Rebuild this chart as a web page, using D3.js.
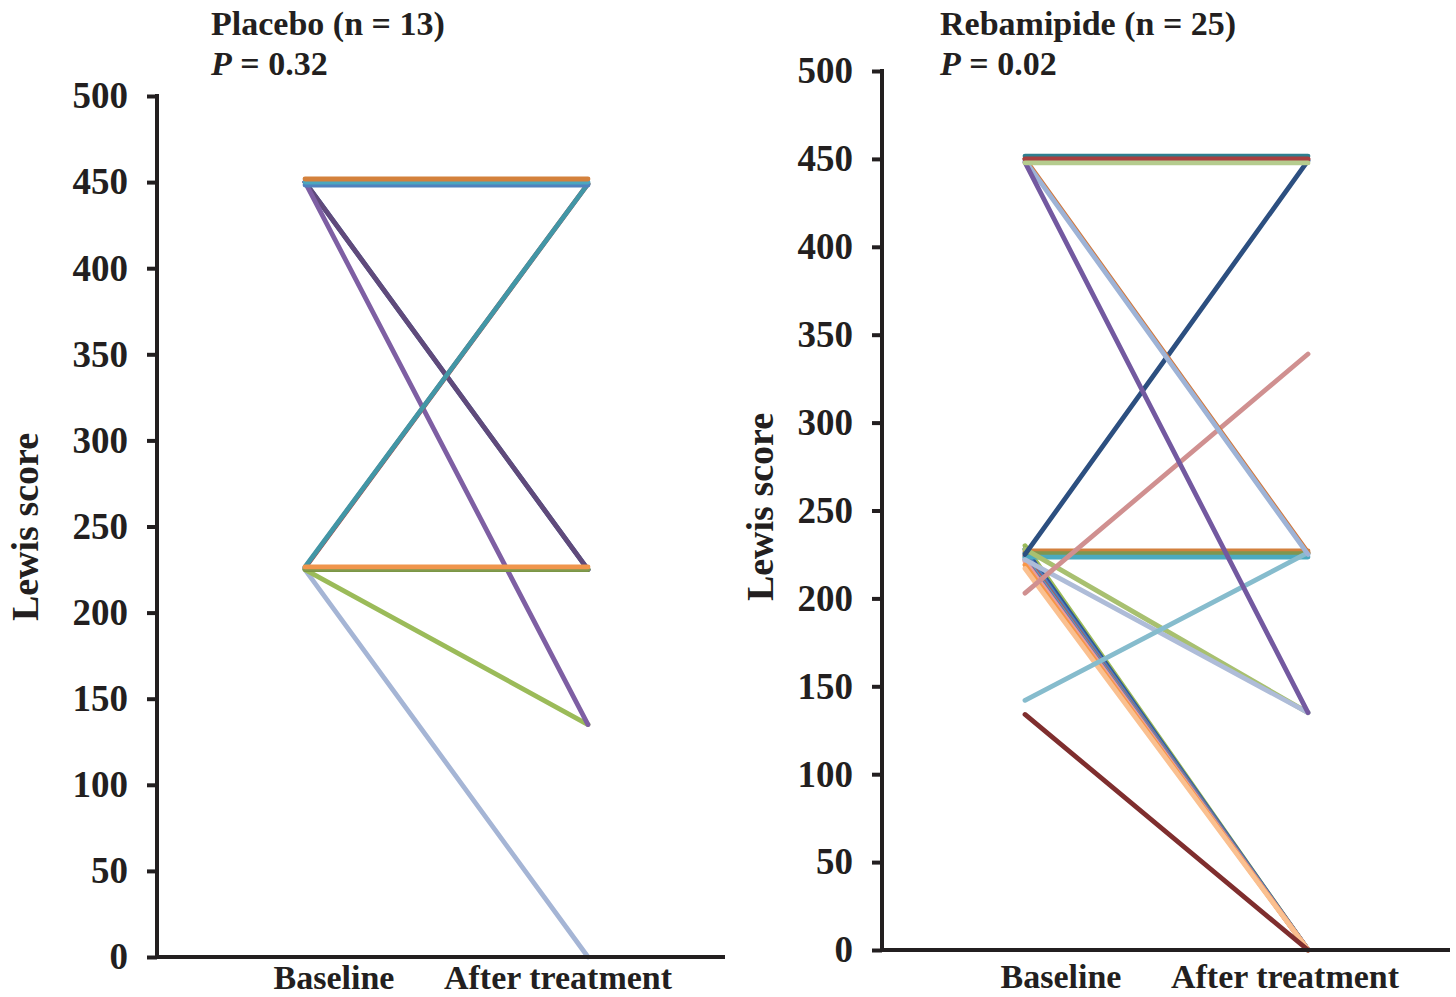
<!DOCTYPE html>
<html>
<head>
<meta charset="utf-8">
<script src="https://cdn.jsdelivr.net/npm/d3@7"></script>
<style>
  html, body { margin: 0; padding: 0; background: #fff; }
  svg { display: block; }
  text { font-family: "Liberation Serif", "Times New Roman", serif; font-weight: bold; fill: #231f20; }
</style>
</head>
<body>
<svg id="chart" width="1456" height="997"></svg>
<script>
// ---------- data ----------
const categories = ["Baseline", "After treatment"];
const yTicks = [0, 50, 100, 150, 200, 250, 300, 350, 400, 450, 500];

// Placebo (n = 13): one line per patient, drawn in this order
const placeboBaseline = [225, 225, 450, 450, 450, 226, 226.5, 225, 225.3, 226.5, 448.3, 450, 451.8];
const placeboAfter    = [0, 135, 225, 225, 135, 449, 449, 225, 225.3, 226.5, 448.3, 450, 451.8];
const placeboColors   = ["#a5b5d5", "#9bbb59", "#3c5f95", "#604a7b", "#7e5fa3", "#b0433d", "#4296a6",
                         "#77933c", "#809a4e", "#f0954c", "#5181bd", "#4ba7bf", "#d4813c"];

// Rebamipide (n = 25)
const rebaBaseline = [230, 228, 226, 224, 223, 222, 221, 219, 217, 134,
                      227, 225.5, 223.5, 228, 222, 142, 203, 225, 450, 449, 448, 450, 451.6, 450, 447.7];
const rebaAfter    = [0, 0, 0, 0, 0, 0, 0, 0, 0, 0,
                      227, 225.5, 223.5, 135, 135, 226, 339, 449, 226, 225, 135, 450, 451.6, 450, 447.7];
const rebaColors   = ["#9bbb59", "#2f5597", "#4f81bd", "#c0504d", "#4bacc6", "#8064a2", "#e6a0a0", "#f79646", "#fac090", "#7f2e2e",
                      "#d2803e", "#7f9650", "#4baac0", "#a8c070", "#aebcd8", "#86bccd", "#d09090", "#2c4f80",
                      "#d2773a", "#9eb3d6", "#7359a0", "#a84040", "#2e7f8f", "#a84040", "#b5cc8e"];

// ---------- layout ----------
const panels = [
  { title: "Placebo (n = 13)", p: "0.32", base: placeboBaseline, after: placeboAfter, colors: placeboColors,
    axisX: 157, axisRight: 725, yBottom: 957, yTop: 96, pts: [305, 588], labs: [334, 558],
    titleX: 211, titleY: 35, yTitleX: 38, yTitleY: 527, labY: 989 },
  { title: "Rebamipide (n = 25)", p: "0.02", base: rebaBaseline, after: rebaAfter, colors: rebaColors,
    axisX: 882, axisRight: 1450, yBottom: 950, yTop: 71, pts: [1025, 1308], labs: [1061, 1285],
    titleX: 940, titleY: 35, yTitleX: 773, yTitleY: 507, labY: 988 }
];

const svg = d3.select("#chart");
const lineWidth = 4.8;

panels.forEach(pn => {
  const g = svg.append("g");
  const y = d3.scaleLinear().domain([0, 500]).range([pn.yBottom, pn.yTop]);
  const x = d3.scalePoint().domain(categories).range(pn.pts);
  const xl = d3.scalePoint().domain(categories).range(pn.labs);

  // patient lines
  const rows = pn.base.map((b, i) => ({ v: [b, pn.after[i]], c: pn.colors[i] }));
  const line = d3.line().x((d, i) => x(categories[i])).y(d => y(d));
  g.selectAll("path.pt").data(rows).join("path")
    .attr("class", "pt")
    .attr("d", d => line(d.v))
    .attr("fill", "none")
    .attr("stroke", d => d.c)
    .attr("stroke-width", lineWidth)
    .attr("stroke-linecap", "round");

  // y axis
  const ya = g.append("g").attr("transform", `translate(${pn.axisX},0)`)
    .call(d3.axisLeft(y).tickValues(yTicks).tickSize(10).tickSizeOuter(0).tickPadding(19));
  ya.select(".domain").attr("stroke", "#231f20").attr("stroke-width", 4)
    .attr("d", `M0,${pn.yBottom + 2}V${pn.yTop - 2}`);
  ya.selectAll(".tick line").attr("stroke", "#231f20").attr("stroke-width", 4);
  ya.selectAll(".tick text").style("font-size", "37px").attr("fill", "#231f20")
    .style("font-family", '"Liberation Serif", "Times New Roman", serif').style("font-weight", "bold");

  // x axis line
  g.append("line")
    .attr("x1", pn.axisX - 2).attr("x2", pn.axisRight)
    .attr("y1", y(0)).attr("y2", y(0))
    .attr("stroke", "#231f20").attr("stroke-width", 4);

  // x labels
  g.selectAll("text.xl").data(categories).join("text")
    .attr("class", "xl")
    .attr("x", d => xl(d))
    .attr("y", pn.labY)
    .attr("text-anchor", "middle")
    .style("font-size", "34px")
    .text(d => d);

  // y title
  g.append("text")
    .attr("transform", `translate(${pn.yTitleX},${pn.yTitleY}) rotate(-90)`)
    .attr("text-anchor", "middle")
    .style("font-size", "38px")
    .text("Lewis score");

  // panel title
  g.append("text").attr("x", pn.titleX).attr("y", pn.titleY).style("font-size", "34px").text(pn.title);
  const pt = g.append("text").attr("x", pn.titleX).attr("y", pn.titleY + 40).style("font-size", "34px");
  pt.append("tspan").style("font-style", "italic").text("P");
  pt.append("tspan").text(" = " + pn.p);
});
</script>
</body>
</html>
